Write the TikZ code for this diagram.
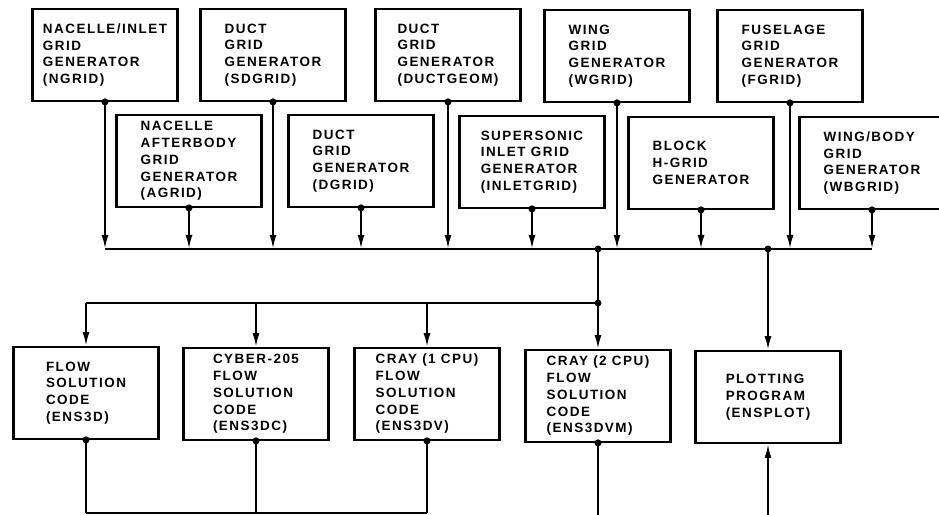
\documentclass[tikz,border=0pt]{standalone}
\usepackage{fontspec}
\newfontfamily\boxfont[LetterSpace=11]{Liberation Sans Bold}
\usetikzlibrary{arrows.meta}

\begin{document}
\begin{tikzpicture}[x=0.03cm, y=-0.03cm, line width=1.8pt,
  blk/.style={draw, minimum width=4.35cm, minimum height=2.75cm, align=left, inner sep=0pt,
    font=\boxfont\fontsize{11.5}{14.3}\selectfont},
  arr/.style={-{Latex[length=12pt,width=6pt]}}]
\useasboundingbox (0,0) rectangle (939,515);
\clip (0,0) rectangle (939,515);

% Grid generators (upper row)
\node[blk] (ngrid) at (105,55) {NACELLE/INLET\\GRID\\GENERATOR\\(NGRID)};
\node[blk] (sdgrid) at (273,55) {DUCT\\GRID\\GENERATOR\\(SDGRID)};
\node[blk] (ductgeom) at (448,55) {DUCT\\GRID\\GENERATOR\\(DUCTGEOM)};
\node[blk] (wgrid) at (617,56) {WING\\GRID\\GENERATOR\\(WGRID)};
\node[blk] (fgrid) at (790,56) {FUSELAGE\\GRID\\GENERATOR\\(FGRID)};

% Grid generators (lower row)
\node[blk] (agrid) at (189,161) {NACELLE\\AFTERBODY\\GRID\\GENERATOR\\(AGRID)};
\node[blk] (dgrid) at (361,161) {DUCT\\GRID\\GENERATOR\\(DGRID)};
\node[blk] (inletgrid) at (532,162) {SUPERSONIC\\INLET GRID\\GENERATOR\\(INLETGRID)};
\node[blk] (hgrid) at (701,163) {BLOCK\\H-GRID\\GENERATOR};
\node[blk] (wbgrid) at (872,163) {WING/BODY\\GRID\\GENERATOR\\(WBGRID)};

% Flow solvers and plotting
\node[blk] (ens3d) at (86,393) {FLOW\\SOLUTION\\CODE\\(ENS3D)};
\node[blk] (ens3dc) at (256,394) {CYBER-205\\FLOW\\SOLUTION\\CODE\\(ENS3DC)};
\node[blk] (ens3dv) at (427,394) {CRAY (1 CPU)\\FLOW\\SOLUTION\\CODE\\(ENS3DV)};
\node[blk] (ens3dvm) at (598,396) {CRAY (2 CPU)\\FLOW\\SOLUTION\\CODE\\(ENS3DVM)};
\node[blk] (ensplot) at (768,397) {PLOTTING\\PROGRAM\\(ENSPLOT)};

% Levels of the buses
\coordinate (bus) at (0,249);
\coordinate (fan) at (0,303);
\coordinate (ret) at (0,513);
\coordinate (edge) at (0,520);

% Generators feed the grid bus
\draw[arr] (ngrid.south) -- (ngrid.south |- bus);
\draw[arr] (agrid.south) -- (agrid.south |- bus);
\draw[arr] (sdgrid.south) -- (sdgrid.south |- bus);
\draw[arr] (dgrid.south) -- (dgrid.south |- bus);
\draw[arr] (ductgeom.south) -- (ductgeom.south |- bus);
\draw[arr] (inletgrid.south) -- (inletgrid.south |- bus);
\draw[arr] (wgrid.south) -- (wgrid.south |- bus);
\draw[arr] (hgrid.south) -- (hgrid.south |- bus);
\draw[arr] (fgrid.south) -- (fgrid.south |- bus);
\draw[arr] (wbgrid.south) -- (wbgrid.south |- bus);
\draw (ngrid.south |- bus) -- (wbgrid.south |- bus);

% Bus down to the solvers
\draw (ens3dvm.north |- bus) -- (ens3dvm.north |- fan);
\draw (ens3d.north |- fan) -- (ens3dvm.north |- fan);
\draw[arr] (ens3d.north |- fan) -- (ens3d.north);
\draw[arr] (ens3dc.north |- fan) -- (ens3dc.north);
\draw[arr] (ens3dv.north |- fan) -- (ens3dv.north);
\draw[arr] (ens3dvm.north |- fan) -- (ens3dvm.north);
\draw[arr] (ensplot.north |- bus) -- (ensplot.north);

% Solver output back to plotting
\draw (ens3d.south) -- (ens3d.south |- ret);
\draw (ens3dc.south) -- (ens3dc.south |- ret);
\draw (ens3dv.south) -- (ens3dv.south |- ret);
\draw (ens3d.south |- ret) -- (ens3dv.south |- ret);
\draw (ens3dvm.south) -- (ens3dvm.south |- edge);
\draw[arr] (ensplot.south |- edge) -- (ensplot.south);

% Junction dots
\fill (ngrid.south) circle[radius=3pt];
\fill (agrid.south) circle[radius=3pt];
\fill (sdgrid.south) circle[radius=3pt];
\fill (dgrid.south) circle[radius=3pt];
\fill (ductgeom.south) circle[radius=3pt];
\fill (inletgrid.south) circle[radius=3pt];
\fill (wgrid.south) circle[radius=3pt];
\fill (hgrid.south) circle[radius=3pt];
\fill (fgrid.south) circle[radius=3pt];
\fill (wbgrid.south) circle[radius=3pt];
\fill (ens3dvm.north |- bus) circle[radius=3pt];
\fill (ensplot.north |- bus) circle[radius=3pt];
\fill (ens3dvm.north |- fan) circle[radius=3pt];
\fill (ens3d.south) circle[radius=3pt];
\fill (ens3dc.south) circle[radius=3pt];
\fill (ens3dv.south) circle[radius=3pt];
\fill (ens3dvm.south) circle[radius=3pt];

\end{tikzpicture}
\end{document}
